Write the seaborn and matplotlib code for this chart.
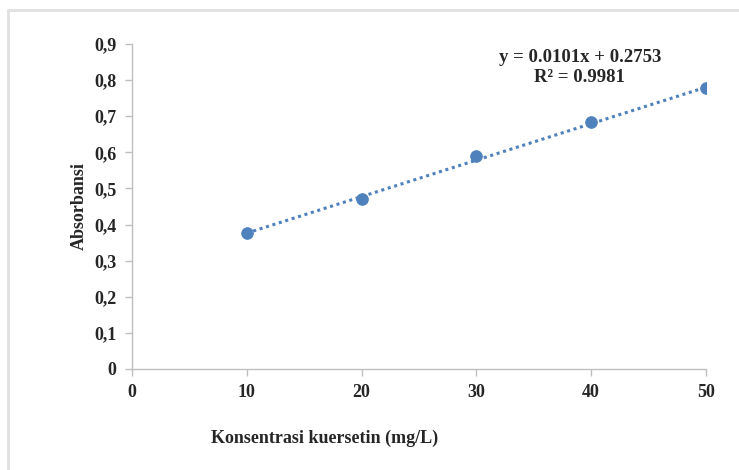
import numpy as np
import pandas as pd
import seaborn as sns
import matplotlib.pyplot as plt
from matplotlib.ticker import FuncFormatter
from matplotlib.lines import Line2D

# data
konsentrasi = [10, 20, 30, 40, 50]
absorbansi = [0.376, 0.471, 0.589, 0.683, 0.777]
slope = 0.0101
intercept = 0.2753
r2 = 0.9981

df = pd.DataFrame({"x": konsentrasi, "y": absorbansi})
df["fit"] = slope * df["x"] + intercept

sns.set_style("white")
plt.rcParams['font.family'] = ['Liberation Serif', 'DejaVu Serif']

blue = "#4F81BD"
grey = "#BFBFBF"

fig = plt.figure(figsize=(7.39, 4.70), dpi=100)
ax = fig.add_axes([0.1786, 0.2149, 0.7767, 0.6915])

sns.lineplot(data=df, x="x", y="fit", ax=ax, color=blue, linestyle=(0, (1, 1.2)),
             linewidth=2.2)
sns.scatterplot(data=df, x="x", y="y", ax=ax, color=blue, s=70, edgecolor=blue,
                zorder=3)

ax.set_xlim(0, 50)
ax.set_ylim(0, 0.9)
ax.set_xticks(range(0, 51, 10))
ax.set_yticks(np.arange(0, 0.91, 0.1))
ax.yaxis.set_major_formatter(FuncFormatter(
    lambda v, p: "0" if abs(v) < 1e-9 else f"{v:.1f}".replace(".", ",")))

for s in ["top", "right"]:
    ax.spines[s].set_visible(False)
for s in ["left", "bottom"]:
    ax.spines[s].set_color(grey)
    ax.spines[s].set_linewidth(1.0)

ax.tick_params(axis="both", which="major", direction="out", length=5, width=1,
               color=grey, labelsize=13, pad=6, bottom=True, left=True)
for lab in ax.get_xticklabels() + ax.get_yticklabels():
    lab.set_fontweight("bold")

ax.set_xlabel("")
ax.set_ylabel("Absorbansi", fontsize=13, fontweight="bold", labelpad=5)
fig.text(325 / 739, 1 - 438 / 470, "Konsentrasi kuersetin (mg/L)", ha="center",
         va="center", fontsize=13, fontweight="bold")

ax.text(0.78, 0.985, f"y = {slope}x + {intercept}\nR² = {r2}", transform=ax.transAxes,
        ha="center", va="top", fontsize=13.5, fontweight="semibold", linespacing=1.25)

# light outer frame
fig.add_artist(Line2D([7.5 / 739, 7.5 / 739], [0, 1 - 9.5 / 470], transform=fig.transFigure,
                      color="#E0E0E0", linewidth=2))
fig.add_artist(Line2D([7.5 / 739, 1], [1 - 9.5 / 470, 1 - 9.5 / 470], transform=fig.transFigure,
                      color="#E0E0E0", linewidth=2))

fig.savefig("out.png", dpi=100)
